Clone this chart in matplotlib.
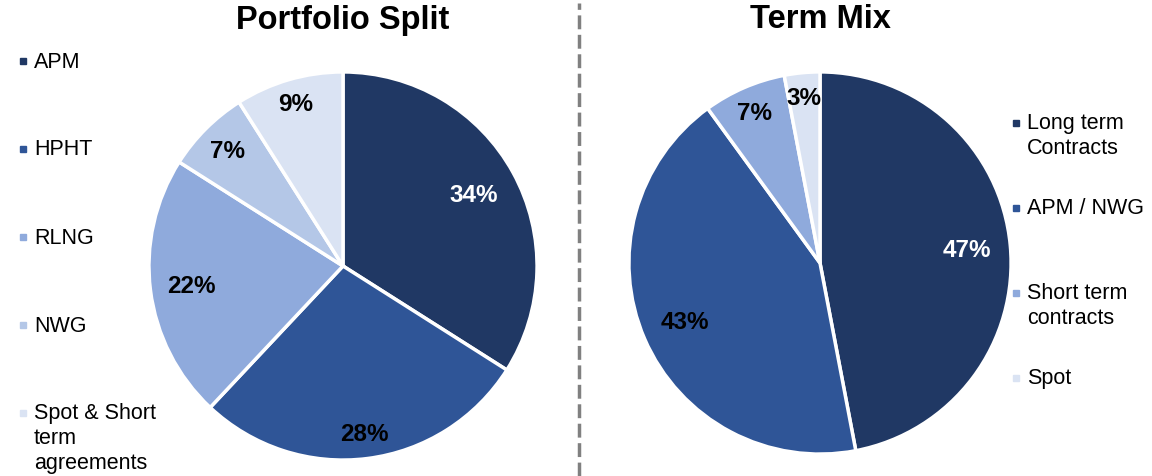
import matplotlib
matplotlib.use("Agg")
import matplotlib.pyplot as plt
from matplotlib.lines import Line2D
import numpy as np

plt.rcParams['font.family'] = ['Liberation Sans', 'DejaVu Sans']

# Data
portfolio_labels = ["APM", "HPHT", "RLNG", "NWG", "Spot & Short\nterm\nagreements"]
portfolio_values = [34, 28, 22, 7, 9]
term_labels = ["Long term\nContracts", "APM / NWG", "Short term\ncontracts", "Spot"]
term_values = [47, 43, 7, 3]

colors5 = ["#203864", "#2F5597", "#8FAADC", "#B4C7E7", "#DAE3F3"]
colors4 = ["#203864", "#2F5597", "#8FAADC", "#DAE3F3"]

W, H = 1152, 477
fig = plt.figure(figsize=(W / 100, H / 100), dpi=100)


def pie_axes(cx, cy, r):
    return fig.add_axes([(cx - r) / W, (H - cy - r) / H, 2 * r / W, 2 * r / H])


def draw_pie(ax, values, colors, dists, txtcolors):
    ax.pie(values, colors=colors, startangle=90, counterclock=False,
           radius=1.0, wedgeprops=dict(edgecolor="white", linewidth=2.5))
    total = sum(values)
    ang0 = 90.0
    for v, d, tc in zip(values, dists, txtcolors):
        mid = ang0 - 360.0 * v / total / 2
        ang0 -= 360.0 * v / total
        x = d * np.cos(np.radians(mid))
        y = d * np.sin(np.radians(mid))
        ax.text(x, y, f"{v}%", ha="center", va="center", fontsize=17.5,
                fontweight="bold", color=tc)
    ax.set_xlim(-1.01, 1.01)
    ax.set_ylim(-1.01, 1.01)
    ax.set_aspect("equal")
    ax.axis("off")


ax1 = pie_axes(343, 267, 196)
draw_pie(ax1, portfolio_values, colors5, [0.77, 0.87, 0.79, 0.84, 0.87],
         ["white", "black", "black", "black", "black"])
ax2 = pie_axes(820, 264, 193)
draw_pie(ax2, term_values, colors4, [0.77, 0.77, 0.86, 0.87],
         ["white", "black", "black", "black"])

fig.text(343 / W, 1 - 20 / H, "Portfolio Split", ha="center", va="center",
         fontsize=23.5, fontweight="bold")
fig.text(820 / W, 1 - 20 / H, "Term Mix", ha="center", va="center",
         fontsize=23.5, fontweight="bold")


def legend(labels, colors, ys, mx, tx):
    for lab, c, y in zip(labels, colors, ys):
        fig.patches.append(plt.Rectangle((mx / W, 1 - (y + 3) / H), 6 / W, 6 / H,
                                         transform=fig.transFigure, color=c,
                                         figure=fig))
        for i, line in enumerate(lab.split("\n")):
            fig.text(tx / W, 1 - (y + 25 * i) / H, line, ha="left", va="center",
                     fontsize=15.5)


legend(portfolio_labels, colors5, [62, 150, 238, 326, 414], 20, 34)
legend(term_labels, colors4, [124, 209, 294, 379], 1013, 1027)

# Divider
fig.add_artist(Line2D([579 / W, 579 / W], [0, 1 - 4 / H], transform=fig.transFigure,
                      color="#808080", linewidth=2.5, linestyle=(0, (4, 1.6))))

fig.savefig("out.png", dpi=100, facecolor="white")
